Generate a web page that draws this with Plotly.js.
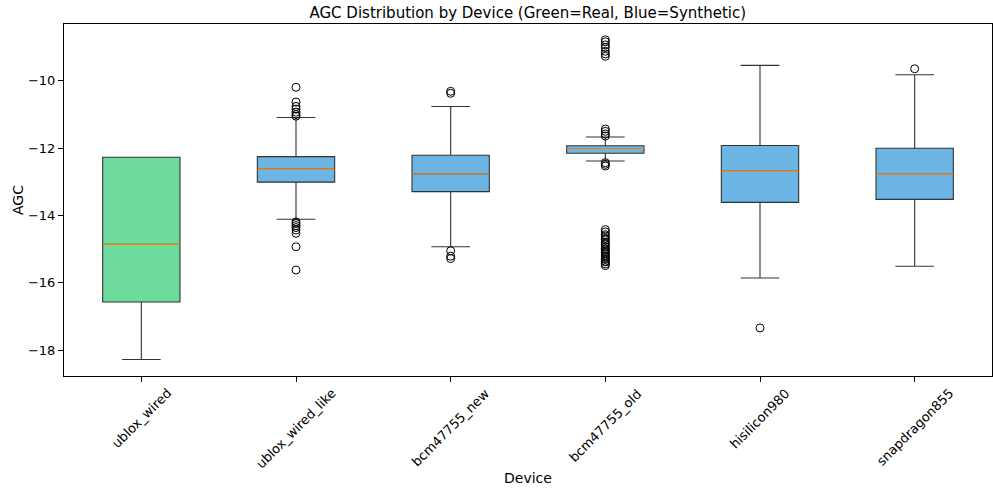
<!DOCTYPE html>
<html>
<head>
<meta charset="utf-8">
<script src="https://cdn.plot.ly/plotly-3.0.1.min.js"></script>
<style>html,body{margin:0;padding:0;background:#fff;}#chart{width:993px;height:491px;}</style>
</head>
<body>
<div id="chart"></div>
<script>
// ---- data ----
const devices = ["ublox_wired", "ublox_wired_like", "bcm47755_new", "bcm47755_old", "hisilicon980", "snapdragon855"];
const realDevices = ["ublox_wired"];
const synthDevices = ["ublox_wired_like", "bcm47755_new", "bcm47755_old", "hisilicon980", "snapdragon855"];

const realLowerFence = [-18.28];
const realQ1 = [-16.57];
const realMedian = [-14.86];
const realQ3 = [-12.27];
const realUpperFence = [-12.27];

const synthLowerFence = [-14.11, -14.93, -12.38, -15.86, -15.51];
const synthQ1 = [-13.01, -13.29, -12.15, -13.61, -13.52];
const synthMedian = [-12.63, -12.76, -12.01, -12.69, -12.78];
const synthQ3 = [-12.25, -12.21, -11.93, -11.92, -12.00];
const synthUpperFence = [-11.09, -10.76, -11.67, -9.54, -9.82];

const outliersUbloxWiredLike = [-10.19, -10.63, -10.76, -10.84, -10.93, -11.0, -11.05,
  -14.19, -14.24, -14.3, -14.36, -14.43, -14.53, -14.93, -15.62];
const outliersBcmNew = [-10.31, -10.37, -15.05, -15.21, -15.28];
const outliersBcmOld = [-8.78, -8.84, -8.93, -9.01, -9.12, -9.2, -9.27,
  -11.43, -11.5, -11.58, -11.64,
  -12.43, -12.48, -12.53,
  -14.42, -14.49, -14.57, -14.61, -14.68, -14.72, -14.79, -14.84, -14.87, -14.93,
  -14.98, -15.02, -15.07, -15.11, -15.14, -15.2, -15.23, -15.28, -15.31, -15.36,
  -15.38, -15.44, -15.49];
const outliersHisilicon = [-17.34];
const outliersSnapdragon = [-9.64];

const outlierSets = [
  ["ublox_wired_like", outliersUbloxWiredLike],
  ["bcm47755_new", outliersBcmNew],
  ["bcm47755_old", outliersBcmOld],
  ["hisilicon980", outliersHisilicon],
  ["snapdragon855", outliersSnapdragon]
];

// ---- styles ----
const edgeColor = "#333333";
const greenFill = "#6ddb9c";
const blueFill = "#6cb4e4";
const medianColor = "#ff7f0e";
const font = "DejaVu Sans, Verdana, sans-serif";

const traces = [];
traces.push({
  type: "box", x: realDevices, q1: realQ1, median: realMedian, q3: realQ3,
  lowerfence: realLowerFence, upperfence: realUpperFence,
  fillcolor: greenFill, line: {color: edgeColor, width: 1.1},
  whiskerwidth: 0.5, boxpoints: false, hoverinfo: "skip", showlegend: false
});
traces.push({
  type: "box", x: synthDevices, q1: synthQ1, median: synthMedian, q3: synthQ3,
  lowerfence: synthLowerFence, upperfence: synthUpperFence,
  fillcolor: blueFill, line: {color: edgeColor, width: 1.1},
  whiskerwidth: 0.5, boxpoints: false, hoverinfo: "skip", showlegend: false
});
// median lines (zero-height boxes drawn in orange)
const allMed = realMedian.concat(synthMedian);
const allDev = realDevices.concat(synthDevices);
traces.push({
  type: "box", x: allDev, q1: allMed, median: allMed, q3: allMed,
  lowerfence: allMed, upperfence: allMed,
  fillcolor: "rgba(0,0,0,0)", line: {color: medianColor, width: 1.2},
  whiskerwidth: 0, boxpoints: false, hoverinfo: "skip", showlegend: false
});
outlierSets.forEach(function (s) {
  traces.push({
    type: "scatter", mode: "markers",
    x: s[1].map(function () { return s[0]; }), y: s[1],
    marker: {symbol: "circle-open", size: 8, color: "#000", line: {width: 1, color: "#000"}},
    hoverinfo: "skip", showlegend: false, cliponaxis: false
  });
});

const annotations = devices.map(function (d) {
  return {
    text: d, x: d, xref: "x", y: 0, yref: "paper",
    xanchor: "center", yanchor: "top", yshift: -7, textangle: -45,
    showarrow: false, font: {family: font, size: 13, color: "#000"}
  };
});
annotations.push({
  text: "Device", x: 0.5, xref: "paper", y: 0, yref: "paper",
  xanchor: "center", yanchor: "middle", yshift: -102, showarrow: false,
  font: {family: font, size: 14, color: "#000"}
});
annotations.push({
  text: "AGC", x: 0, xref: "paper", y: 0.5, yref: "paper",
  xanchor: "center", yanchor: "middle", xshift: -46, textangle: -90, showarrow: false,
  font: {family: font, size: 14, color: "#000"}
});

const layout = {
  width: 993, height: 491,
  margin: {l: 64, r: 1, t: 24, b: 115, pad: 0},
  paper_bgcolor: "#fff", plot_bgcolor: "#fff",
  font: {family: font, size: 13, color: "#000"},
  title: {text: "AGC Distribution by Device (Green=Real, Blue=Synthetic)",
    x: 0.5315, xanchor: "center", y: 0.974, yanchor: "middle",
    font: {family: font, size: 15, color: "#000"}},
  boxmode: "overlay", boxgap: 0.5, boxgroupgap: 0,
  xaxis: {type: "category", categoryarray: devices, categoryorder: "array",
    range: [-0.5, 5.5], showticklabels: false, ticks: "outside", ticklen: 5,
    tickcolor: "#000", showline: true, linecolor: "#000", linewidth: 1, mirror: true,
    showgrid: false, zeroline: false, fixedrange: true},
  yaxis: {range: [-18.77, -8.31], tickvals: [-18, -16, -14, -12, -10],
    ticks: "outside", ticklen: 5, tickcolor: "#000",
    tickfont: {family: font, size: 13, color: "#000"},
    showline: true, linecolor: "#000", linewidth: 1, mirror: true,
    showgrid: false, zeroline: false, fixedrange: true},
  annotations: annotations,
  showlegend: false
};

Plotly.newPlot("chart", traces, layout, {displayModeBar: false, staticPlot: true});
</script>
</body>
</html>
